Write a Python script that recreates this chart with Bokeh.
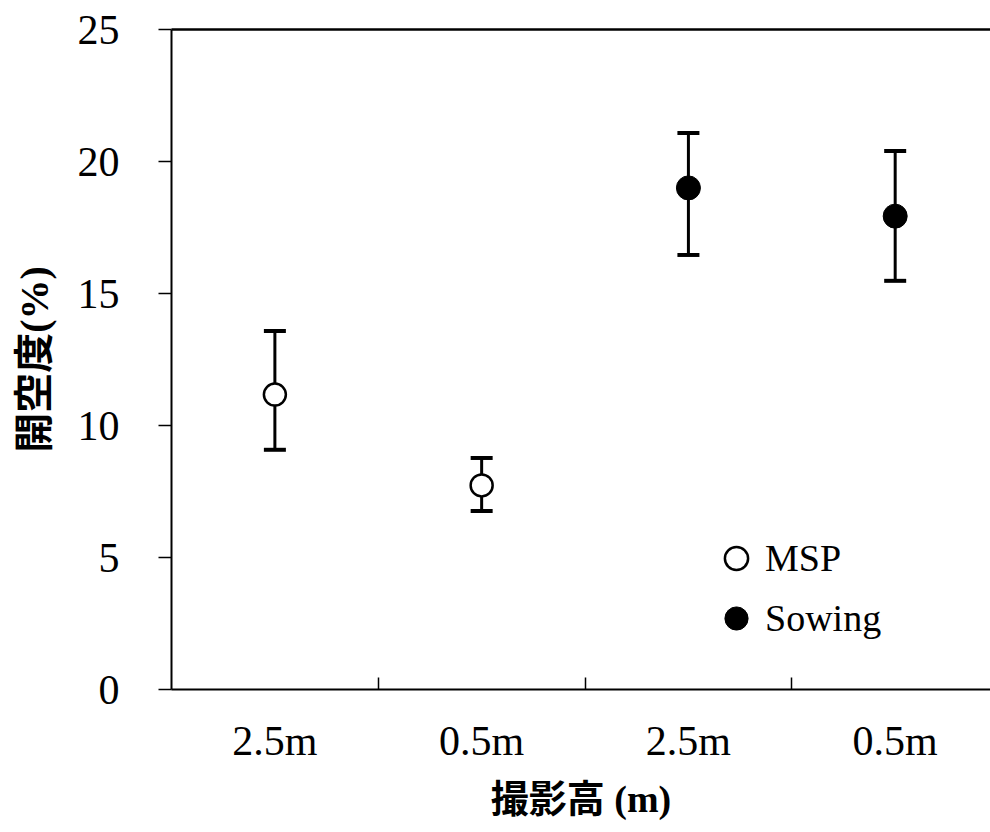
from bokeh.plotting import figure
from bokeh.models import (Range1d, FixedTicker, LinearAxis, Whisker, TeeHead,
                          ColumnDataSource, Legend, LegendItem)
from bokeh.embed import file_html
from bokeh.resources import INLINE

# Canopy openness by camera height and treatment
heights = ["2.5m", "0.5m", "2.5m", "0.5m"]
treatment = ["MSP", "MSP", "Sowing", "Sowing"]
openness = [11.17, 7.73, 19.0, 17.93]
err_upper = [13.58, 8.77, 21.08, 20.4]
err_lower = [9.08, 6.76, 16.46, 15.48]
y_ticks = [0, 5, 10, 15, 20, 25]

SERIF = "Liberation Serif"
MIXED = "Liberation Serif, Noto Sans CJK JP"
INK = "black"

xpos = [i + 0.5 for i in range(len(heights))]
src = ColumnDataSource(dict(x=xpos, y=openness, upper=err_upper, lower=err_lower))
msp = ColumnDataSource(dict(x=[x for x, t in zip(xpos, treatment) if t == "MSP"],
                            y=[v for v, t in zip(openness, treatment) if t == "MSP"]))
sow = ColumnDataSource(dict(x=[x for x, t in zip(xpos, treatment) if t == "Sowing"],
                            y=[v for v, t in zip(openness, treatment) if t == "Sowing"]))

p = figure(width=990, height=832, output_backend="svg", toolbar_location=None,
           x_range=Range1d(0, 3.961), y_range=Range1d(0, 25),
           min_border_left=171, min_border_top=29, min_border_bottom=143,
           min_border_right=0, x_axis_location="below")
p.outline_line_color = None
p.xgrid.visible = False
p.ygrid.visible = False
p.background_fill_color = "white"
p.border_fill_color = "white"

# y axis
ya = p.yaxis[0]
ya.ticker = FixedTicker(ticks=y_ticks, minor_ticks=[])
ya.major_tick_out = 13
ya.major_tick_in = 0
ya.major_tick_line_width = 1.5
ya.axis_line_width = 2
ya.major_label_text_font = SERIF
ya.major_label_text_font_size = "42px"
ya.major_label_text_color = INK
ya.major_label_standoff = 39
ya.axis_label = "開空度(%)"
ya.axis_label_text_font = MIXED
ya.axis_label_text_font_style = "bold"
ya.axis_label_text_font_size = "40px"
ya.axis_label_text_color = INK
ya.axis_label_standoff = 18

# x axis: labels at group centres, separators between groups
xa = p.xaxis[0]
xa.ticker = FixedTicker(ticks=xpos, minor_ticks=[1, 2, 3])
xa.major_tick_line_color = None
xa.minor_tick_in = 12
xa.minor_tick_out = 0
xa.minor_tick_line_width = 1.5
xa.axis_line_width = 2
xa.major_label_overrides = {x: h for x, h in zip(xpos, heights)}
xa.major_label_text_font = SERIF
xa.major_label_text_font_size = "42px"
xa.major_label_text_color = INK
xa.major_label_standoff = 22
xa.axis_label = "撮影高 (m)"
xa.axis_label_text_font = MIXED
xa.axis_label_text_font_style = "bold"
xa.axis_label_text_font_size = "38px"
xa.axis_label_text_color = INK
xa.axis_label_standoff = 11

# top border line
top = LinearAxis(ticker=FixedTicker(ticks=[]), major_label_text_font_size="0px",
                 major_tick_line_color=None, minor_tick_line_color=None,
                 axis_line_width=2.5)
p.add_layout(top, "above")

# error bars
head = dict(size=22, line_width=4, line_color="black")
p.add_layout(Whisker(source=src, base="x", upper="upper", lower="lower",
                     line_width=3, line_color="black",
                     upper_head=TeeHead(**head), lower_head=TeeHead(**head)))

r_msp = p.scatter("x", "y", source=msp, size=22, fill_color="white",
                  line_color="black", line_width=2.5)
r_sow = p.scatter("x", "y", source=sow, size=24, fill_color="black",
                  line_color="black", line_width=1)

legend = Legend(items=[LegendItem(label="MSP", renderers=[r_msp]),
                       LegendItem(label="Sowing", renderers=[r_sow])],
                location=(536, 41), orientation="vertical",
                glyph_width=58, glyph_height=60, label_height=60,
                spacing=0, padding=0, margin=0, label_standoff=0,
                label_text_font=SERIF, label_text_font_size="38px",
                label_text_color=INK,
                border_line_color=None, background_fill_alpha=0)
p.add_layout(legend, "center")

open("out.html", "w").write(file_html(p, INLINE))
